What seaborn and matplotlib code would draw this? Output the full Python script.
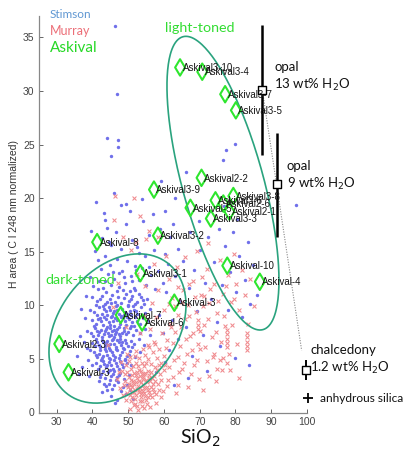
import matplotlib
matplotlib.use("Agg")
import numpy as np
import pandas as pd
import matplotlib.pyplot as plt
import seaborn as sns

# ---------------- data ----------------
stimson = [
    (41.2,10.4),(42.8,10.9),(43.5,10.1),(44.9,10.6),(45.6,11.0),(46.3,10.3),(47.1,10.8),(48.0,10.2),(48.8,10.7),(49.5,11.1),
    (50.3,10.4),(51.2,10.9),(52.4,10.3),(53.6,10.8),(54.5,10.1),(44.1,10.3),(46.8,11.3),(49.9,10.0),(51.8,11.4),(55.3,10.6),
    (40.5,9.4),(41.9,9.8),(42.6,9.2),(43.3,9.7),(44.2,9.1),(45.0,9.6),(45.8,9.3),(46.6,9.9),(47.4,9.2),(48.3,9.7),
    (49.1,9.4),(50.0,9.9),(50.8,9.1),(51.7,9.6),(52.6,9.2),(53.5,9.8),(54.8,9.3),(56.2,9.7),(43.9,9.5),(47.9,9.0),
    (49.6,9.2),(46.1,9.5),(39.8,8.6),(41.1,8.3),(42.0,8.8),(42.9,8.2),(43.7,8.7),(44.5,8.4),(45.3,8.9),(46.0,8.1),
    (46.9,8.6),(47.7,8.3),(48.6,8.8),(49.4,8.2),(50.3,8.7),(51.1,8.4),(52.0,8.9),(53.2,8.3),(54.1,8.8),(55.6,8.5),
    (44.0,8.0),(45.7,8.5),(48.1,8.9),(50.7,8.1),(42.4,8.5),(39.5,7.4),(40.7,7.9),(41.5,7.2),(42.3,7.7),(43.1,7.3),
    (43.9,7.8),(44.6,7.1),(45.4,7.6),(46.2,7.3),(47.0,7.8),(47.8,7.1),(48.7,7.6),(49.5,7.3),(50.4,7.9),(51.3,7.2),
    (52.2,7.7),(53.4,7.4),(54.7,7.8),(56.0,7.2),(44.9,7.9),(46.6,7.5),(48.2,7.4),(41.9,7.5),(45.9,7.0),(39.9,6.5),
    (41.0,6.9),(41.8,6.3),(42.6,6.8),(43.4,6.2),(44.2,6.7),(45.0,6.4),(45.8,6.9),(46.5,6.1),(47.3,6.6),(48.1,6.3),
    (49.0,6.8),(49.9,6.2),(50.8,6.7),(51.7,6.4),(52.9,6.9),(54.3,6.3),(43.8,6.5),(46.9,6.8),(48.6,6.0),(44.7,6.0),
    (42.2,6.1),(40.3,5.6),(41.4,5.2),(42.2,5.8),(43.0,5.3),(43.8,5.7),(44.6,5.1),(45.4,5.6),(46.2,5.2),(47.0,5.8),
    (47.8,5.4),(48.7,5.9),(49.6,5.3),(50.6,5.7),(51.9,5.2),(53.3,5.6),(44.2,5.4),(46.6,5.9),(45.0,5.0),(41.0,4.6),
    (42.1,4.3),(42.9,4.8),(43.7,4.2),(44.5,4.7),(45.3,4.4),(46.1,4.9),(46.9,4.3),(47.7,4.8),(48.6,4.2),(49.6,4.6),
    (50.8,4.4),(43.3,4.5),(45.8,4.1),(42.5,3.6),(43.5,3.2),(44.3,3.8),(45.2,3.4),(46.0,3.9),(46.9,3.3),(47.8,3.7),
    (48.9,3.1),(44.8,3.0),(50.2,3.5),(43.9,2.5),(45.6,2.2),(47.2,2.8),(48.5,2.4),(44.7,2.7),(50.6,2.1),(45.1,1.5),
    (47.0,1.2),(49.3,1.7),(51.4,1.3),(41.7,2.9),(42.8,1.9),(46.4,0.9),
    (40.9,10.0),(42.2,10.6),(43.8,11.2),(45.3,10.2),(46.9,10.0),(48.5,11.4),(50.9,10.6),(52.0,10.1),(53.1,11.1),(54.0,10.5),
    (41.3,9.1),(42.9,9.9),(44.6,9.8),(45.4,9.0),(47.0,9.6),(48.7,9.1),(50.4,9.5),(51.3,9.9),(52.2,9.5),(53.9,9.1),
    (40.4,8.1),(41.6,8.7),(43.2,8.9),(44.9,8.2),(46.4,8.8),(47.3,8.0),(49.0,8.5),(49.8,8.9),(51.6,8.1),(52.6,8.5),
    (40.1,7.1),(41.2,7.6),(42.7,7.0),(43.5,7.6),(44.3,7.4),(45.1,7.2),(46.0,7.7),(47.4,7.3),(48.9,7.9),(50.0,7.5),
    (40.6,6.2),(41.4,6.6),(43.0,6.6),(44.4,6.3),(45.4,6.8),(46.1,6.4),(47.7,6.9),(48.4,6.6),(49.5,6.5),(51.2,6.1),
    (40.9,5.4),(41.8,5.5),(42.6,5.1),(43.4,5.9),(44.9,5.8),(45.8,5.4),(47.4,5.1),(48.2,5.6),(49.2,5.0),(50.2,5.4),
    (41.5,4.1),(42.5,4.9),(44.1,4.4),(44.9,4.0),(46.5,4.6),(47.3,4.1),(48.2,4.5),(49.1,4.9),(43.0,3.9),(45.7,3.6),
    (46.5,3.0),(47.4,3.5),(43.2,2.7),(44.2,2.1),(46.1,2.6),(48.0,2.0),(49.7,2.6),(42.1,3.3),(39.8,4.4),(39.3,5.8),
    (38.6,7.6),(39.2,9.6),(40.0,10.8),(41.5,11.5),(43.4,12.3),(45.7,13.1),(48.9,12.6),(51.1,12.3),(52.1,13.3),(55.8,13.6),
    (40.2,11.8),(41.8,12.3),(43.0,11.6),(44.4,12.9),(45.2,11.9),(46.1,12.5),(47.5,11.7),(48.4,13.2),(49.2,12.1),(50.7,12.7),
    (51.6,11.6),(52.9,12.4),(53.8,13.5),(55.0,11.9),(56.4,12.8),(57.5,11.5),(42.5,13.4),(44.9,13.8),(46.8,14.3),(49.8,14.1),
    (51.9,13.7),(54.6,14.6),(58.3,13.2),(59.6,12.1),(47.3,13.0),(43.6,14.6),(50.4,11.3),(53.1,14.9),
    (40.8,15.1),(42.6,16.3),(44.0,17.2),(45.3,15.6),(46.7,16.8),(48.1,15.3),(49.4,17.6),(51.0,16.1),(52.6,15.4),(54.2,17.9),
    (55.7,16.6),(57.1,15.2),(58.8,17.1),(60.4,14.8),(43.2,18.6),(47.9,19.4),(50.6,18.8),(53.8,19.9),(56.9,18.5),(61.8,16.4),
    (39.6,16.9),(46.0,20.5),(44.7,15.9),(41.6,14.2),(40.9,19.6),(49.5,19.5),(60.3,18.8),(43.5,18.0),(45.2,23.9),
    (63.2,20.0),(59.1,21.6),(66.3,22.4),(62.5,17.6),
    (35.8,5.3),(36.5,7.1),(37.2,4.2),(37.8,8.8),(38.4,6.0),(38.9,3.4),(36.9,9.7),(38.1,10.9),(39.2,12.6),(37.6,6.6),
    (38.7,4.9),(36.2,3.6),
    (58.6,9.1),(59.8,7.4),(60.7,11.2),(61.5,5.8),(62.3,8.6),(63.1,12.7),(63.9,6.9),(64.6,10.4),(65.4,14.1),(66.2,8.0),
    (67.0,11.6),(67.8,5.3),(68.5,13.3),(69.3,9.5),(70.1,15.2),(70.8,7.2),(71.6,12.1),(72.4,16.4),(73.2,10.6),(74.0,14.0),
    (74.7,8.4),(75.5,17.1),(76.3,11.9),(77.1,15.5),(77.9,9.6),(78.6,13.1),(79.4,16.8),(80.2,11.2),(81.0,14.6),(81.8,8.9),
    (82.6,12.4),(83.4,15.9),(84.2,10.1),(85.0,13.8),(86.1,11.0),(69.8,17.9),(72.9,18.8),(76.8,19.3),(80.5,18.1),(67.4,16.8),
    (63.8,15.3),(61.2,13.9),(75.8,6.2),(79.8,5.1),(71.9,3.9),(66.6,3.2),(83.7,4.4),(62.9,2.6),(57.8,3.8),(60.2,4.7),
    (46.3,36.1),(46.8,29.7),(44.0,25.6),(47.2,25.4),(47.2,24.8),(79.9,25.1),(77.3,24.5),(76.5,23.6),(96.9,19.4),
]

murray = [
    (48.2,3.9),(48.9,2.6),(49.4,4.4),(49.8,1.8),(50.1,3.3),(50.5,2.2),(50.8,4.1),(51.1,1.4),(51.3,2.9),(51.6,3.7),
    (51.9,2.1),(52.1,4.6),(52.3,1.6),(52.6,3.2),(52.8,2.5),(53.1,4.0),(53.3,1.1),(53.6,2.8),(53.9,3.6),(54.1,2.0),
    (54.4,4.3),(54.7,1.5),(54.9,3.0),(55.2,2.4),(55.5,3.9),(55.8,1.9),(56.1,2.9),(56.5,4.5),(56.9,2.2),(57.3,3.4),
    (57.8,1.7),(58.3,2.7),(50.3,2.7),(51.5,1.9),(52.5,3.8),(53.4,2.3),(54.2,3.3),(55.0,1.2),(52.0,0.8),(53.8,0.6),
    (51.0,3.5),(49.2,2.9),(50.9,1.1),(55.9,3.5),(56.7,1.4),(57.6,4.2),(53.0,5.1),(54.6,5.4),(51.8,5.3),(50.2,4.8),
    (55.6,5.0),(48.5,1.6),(47.6,2.3),(46.8,3.1),(49.6,5.5),(52.9,1.9),(54.0,2.6),(51.2,2.4),(53.5,3.9),(55.3,2.8),
    (50.7,3.0),(52.2,3.5),(53.7,1.7),(49.0,3.6),(56.3,2.4),(58.9,3.6),(59.6,2.0),(60.4,4.4),(61.2,3.0),(57.0,5.6),
    (58.1,5.1),(50.6,0.3),(52.7,0.2),(54.3,0.4),
    (49.7,3.8),(50.4,1.6),(50.9,2.6),(51.4,4.3),(51.7,2.7),(52.0,1.3),(52.4,2.2),(52.7,4.3),(53.0,2.9),(53.2,3.4),
    (53.5,1.4),(53.8,4.6),(54.0,3.1),(54.3,1.8),(54.5,2.3),(54.8,3.7),(55.1,4.6),(55.4,2.1),(55.7,3.2),(56.0,1.6),
    (56.4,3.8),(56.8,2.7),(57.2,1.9),(57.5,2.9),(58.0,4.0),(58.6,2.1),(59.1,3.0),(59.9,4.0),(49.9,2.4),(51.0,1.9),
    (52.2,2.8),(53.3,2.0),(54.4,3.6),(55.6,1.4),(56.6,3.2),(52.5,0.6),(53.9,1.1),(55.2,0.8),(51.5,0.7),(49.4,1.2),
    (50.5,5.2),(52.3,5.7),(54.0,5.9),(55.8,6.1),(57.5,6.4),(48.0,4.7),(47.3,3.8),(58.7,4.4),(60.0,5.3),(61.5,4.2),
    (62.6,3.3),(63.9,2.6),(65.1,4.1),(57.9,0.9),(56.2,0.5),(59.3,1.4),(60.8,2.5),
    (55.4,6.3),(56.2,7.8),(57.1,6.6),(57.9,8.9),(58.7,5.9),(59.4,7.4),(60.1,9.6),(60.8,6.8),(61.6,8.3),(62.3,10.7),
    (63.0,7.5),(63.8,9.1),(64.5,6.2),(65.2,11.4),(65.9,8.7),(66.7,10.0),(67.4,7.1),(68.1,12.3),(68.9,9.4),(69.6,6.4),
    (70.4,11.0),(71.1,8.2),(71.9,13.4),(72.6,10.2),(73.4,7.0),(74.1,12.0),(74.9,9.3),(75.6,14.2),(76.4,11.1),(77.2,8.1),
    (77.9,12.8),(78.7,10.3),(79.5,14.8),(80.2,12.0),(81.0,9.6),(81.8,13.3),(82.6,11.0),(83.4,8.3),(84.2,12.5),(85.1,9.9),
    (62.8,4.9),(64.1,3.8),(66.5,5.5),(68.4,4.4),(70.2,5.9),(72.0,4.8),(73.9,5.5),(75.7,4.9),(61.5,12.5),(63.6,13.6),
    (66.0,14.5),(69.2,15.1),(72.2,15.8),(58.2,11.4),(56.6,10.2),(54.3,9.0),(53.2,7.4),(54.8,11.8),(52.5,12.9),(57.3,13.9),
    (60.6,14.6),(50.8,15.2),(48.6,16.4),(45.9,18.0),(55.9,16.9),(53.4,18.3),(51.7,20.0),(47.2,12.1),(45.7,9.8),(49.3,8.0),
    (44.3,6.3),(58.4,16.4),(46.3,20.2),(55.1,16.2),(52.3,15.9),
    (62.4,6.5),(63.2,9.9),(64.0,5.2),(64.8,8.0),(65.6,4.6),(66.3,6.9),(67.1,9.0),(67.9,5.8),(68.6,10.8),(69.3,4.9),
    (70.0,7.6),(70.8,9.9),(71.5,6.1),(72.3,8.7),(73.0,11.5),(73.7,5.2),(74.5,7.5),(75.2,10.4),(75.9,6.6),(76.7,9.0),
    (77.4,11.8),(78.1,5.5),(78.9,8.2),(79.6,10.6),(80.4,6.4),(65.0,10.3),(66.9,12.0),(70.5,12.6),(62.0,8.0),(60.5,6.0),
    (59.2,4.6),(61.3,10.1),(63.9,11.7),(67.6,3.6),(69.9,3.1),(72.7,3.4),(74.8,4.1),(76.6,5.1),(71.2,10.9),(68.2,7.4),
    (77.7,7.7),(77.7,7.3),(77.7,6.9),(77.7,6.5),(77.7,6.1),(83.2,7.4),(83.2,7.0),(83.2,6.6),(83.2,6.2),(83.2,5.8),
    (69.4,8.6),(69.4,8.2),(69.4,7.8),(77.6,4.6),(78.5,4.0),(76.1,4.0),(80.9,3.2),(74.6,2.9),(66.8,2.4),(63.4,1.8),
    (70.9,2.1),
]

askival_names = ["Askival3-10", "Askival3-4", "Askival3-7", "Askival3-5", "Askival2-2", "Askival3-9",
                 "Askival3-8", "Askival3-6", "Askival2-6", "Askival-5", "Askival2-1", "Askival3-3",
                 "Askival3-2", "Askival-8", "Askival3-1", "Askival-10", "Askival-4", "Askival-3",
                 "Askival-7", "Askival-6", "Askival2-3", "Askival-3"]
askival_x = [64.5, 70.7, 77.1, 80.1, 70.5, 57.2, 79.4, 74.4, 76.6, 67.4, 78.3, 73.1,
             58.3, 41.3, 53.4, 77.7, 86.8, 62.9, 47.9, 53.9, 30.7, 33.3]
askival_y = [32.2, 31.8, 29.7, 28.2, 21.9, 20.8, 20.2, 19.8, 19.5, 19.1, 18.75, 18.1,
             16.5, 15.9, 13.0, 13.7, 12.2, 10.25, 9.1, 8.4, 6.4, 3.75]

# reference minerals
ref_names = ["opal\n13 wt% H$_2$O", "opal\n9 wt% H$_2$O", "chalcedony\n1.2 wt% H$_2$O"]
ref_x = [87.5, 91.5, 99.7]
ref_y = [30.1, 21.3, 3.97]
ref_lo = [24.0, 16.4, 3.0]
ref_hi = [36.2, 26.1, 4.9]
anhydrous_x = [100.3]
anhydrous_y = [1.35]
trend_x = [87.5, 98.5]
trend_y = [30.1, 5.8]

# ellipses: center, x half-extent, y coupling, y minor term
dark_ell = dict(cx=47.0, cy=7.84, a=19.16, c=2.19, b=6.61)
light_ell = dict(cx=76.5, cy=21.4, a=15.66, c=-9.06, b=10.28)

# ---------------- figure ----------------
sns.set_theme(style="white")
plt.rcParams['font.family'] = ['Liberation Sans', 'DejaVu Sans']

W, H = 404, 449
fig = plt.figure(figsize=(W / 100, H / 100), dpi=100)
ax = fig.add_axes([38.8 / W, 1 - 412.5 / H, (307.0 - 38.8) / W, (412.5 - 16) / H])

df_s = pd.DataFrame(stimson, columns=["SiO2", "H"])
df_m = pd.DataFrame(murray, columns=["SiO2", "H"])
df_a = pd.DataFrame({"SiO2": askival_x, "H": askival_y, "name": askival_names})

sns.scatterplot(data=df_s, x="SiO2", y="H", ax=ax, marker="o", s=6, color="#7070ea",
                linewidth=0, zorder=2)
sns.scatterplot(data=df_m, x="SiO2", y="H", ax=ax, marker="x", s=8, color="#f08a8e",
                linewidth=0.75, zorder=3)

# ellipses
t = np.linspace(0, 2 * np.pi, 300)
for e in (dark_ell, light_ell):
    ex = e["cx"] + e["a"] * np.cos(t)
    ey = e["cy"] + e["c"] * np.cos(t) + e["b"] * np.sin(t)
    sns.lineplot(x=ex, y=ey, sort=False, estimator=None, errorbar=None, ax=ax,
                 color="#2aa37e", linewidth=1.2, zorder=4)

# trend dotted line
ax.plot(trend_x, trend_y, linestyle=(0, (1, 1.3)), color="#888888", linewidth=0.8, zorder=4)

# reference minerals error bars + squares
ax.vlines(ref_x[:2], ref_lo[:2], ref_hi[:2], color="black", linewidth=1.8, zorder=5)
ax.vlines(ref_x[2:], ref_lo[2:], ref_hi[2:], color="black", linewidth=1.4, zorder=5, clip_on=False)
ax.scatter(ref_x, ref_y, marker="s", s=30, facecolor="white", edgecolor="black",
           linewidth=1.0, zorder=6, clip_on=False)
ax.scatter(anhydrous_x, anhydrous_y, marker="+", s=45, color="black", linewidth=1.3,
           zorder=6, clip_on=False)

# Askival diamonds
sns.scatterplot(data=df_a, x="SiO2", y="H", ax=ax, marker="d", s=70, color="#2ee62e",
                linewidth=1.5, zorder=7)
ax.collections[-1].set_facecolor("none")
ax.collections[-1].set_edgecolor("#2ee62e")
for xv, yv, nm in zip(askival_x, askival_y, askival_names):
    ax.annotate(nm, (xv, yv), xytext=(1.8, -0.5), textcoords="offset points", ha="left",
                va="center", fontsize=7.0, color="#151515", zorder=8)

# reference labels
cal = ['Lato', 'DejaVu Sans']
ref_pos = [(90.8, 31.3), (94.3, 22.1), (100.9, 4.9)]
for (tx, ty), nm in zip(ref_pos, ref_names):
    ax.text(tx, ty, nm, fontsize=9.5, family=cal, color="#111111", va="center",
            ha="left", linespacing=1.35, clip_on=False)
ax.text(103.5, 1.35, "anhydrous silica", fontsize=8.6, family=cal, color="#111111",
        va="center", ha="left", clip_on=False)

# group labels
ax.text(70.1, 35.9, "light-toned", fontsize=10.3, family=cal, color="#33dd33", ha="center", va="center")
ax.text(36.5, 12.4, "dark-toned", fontsize=10.3, family=cal, color="#33dd33", ha="center", va="center")

# legend-like texts
fig.text(50 / W, 1 - 15 / H, "Stimson", fontsize=8.5, family=cal, color="#5f97d2", va="center")
fig.text(50 / W, 1 - 31 / H, "Murray", fontsize=9, family=cal, color="#ec6f78", va="center")
fig.text(50 / W, 1 - 48 / H, "Askival", fontsize=11, family=cal, color="#27d827", va="center")

# axes styling
ax.set_xlim(25, 100)
ax.set_ylim(0, 37)
ax.set_xticks([30, 40, 50, 60, 70, 80, 90, 100])
ax.set_yticks([0, 5, 10, 15, 20, 25, 30, 35])
ax.tick_params(axis="both", direction="in", length=3, width=0.7, colors="#666666",
               labelsize=7.5, labelcolor="#444444", pad=3,
               bottom=True, left=True, top=False, right=False)
for side in ("top", "right"):
    ax.spines[side].set_visible(False)
for side in ("left", "bottom"):
    ax.spines[side].set_color("#888888")
    ax.spines[side].set_linewidth(0.9)
ax.set_xlabel("SiO$_2$", fontsize=14, family=cal, color="#111111")
ax.xaxis.set_label_coords(0.60, -0.038)
ax.set_ylabel("H area ( C l 248 nm normalized)", fontsize=7.5, color="#333333")
ax.yaxis.set_label_coords(-0.075, 0.5)
ax.set_facecolor("white")
ax.grid(False)

fig.savefig("out.png", dpi=100, facecolor="white")
